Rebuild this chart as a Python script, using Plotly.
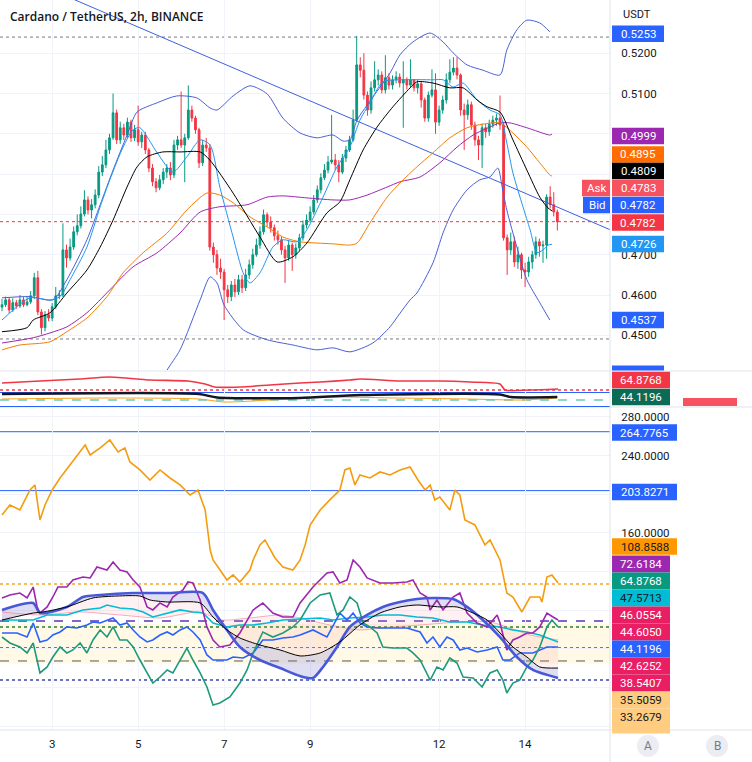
import plotly.graph_objects as go

# ---------------- DATA ----------------
# 2h candles, index 0 = day 1 20:00 ; index 14 = day 3 00:00
first_open = 0.4570
closes = [0.4576, 0.4588, 0.4563, 0.4581, 0.4573, 0.4588, 0.4576, 0.4583, 0.4598, 0.4643,
          0.4558, 0.4519, 0.4551, 0.4543, 0.4571, 0.4598, 0.4600, 0.4712, 0.4692, 0.4719,
          0.4757, 0.4772, 0.4801, 0.4836, 0.4811, 0.4824, 0.4848, 0.4905, 0.4923, 0.4960,
          0.4990, 0.5052, 0.4985, 0.5015, 0.4997, 0.5029, 0.4990, 0.5010, 0.4980, 0.4997,
          0.4960, 0.4915, 0.4881, 0.4866, 0.4886, 0.4905, 0.4915, 0.4898, 0.4972, 0.4985,
          0.4972, 0.4990, 0.5059, 0.5039, 0.5010, 0.4928, 0.4972, 0.4965, 0.4719, 0.4700,
          0.4667, 0.4657, 0.4613, 0.4596, 0.4625, 0.4608, 0.4638, 0.4618, 0.4650, 0.4675,
          0.4700, 0.4724, 0.4757, 0.4799, 0.4781, 0.4767, 0.4747, 0.4737, 0.4712, 0.4692,
          0.4724, 0.4700, 0.4717, 0.4742, 0.4774, 0.4786, 0.4806, 0.4836, 0.4861, 0.4891,
          0.4910, 0.4930, 0.4935, 0.4923, 0.4905, 0.4940, 0.4960, 0.4985, 0.5034, 0.5171,
          0.5158, 0.5096, 0.5059, 0.5114, 0.5134, 0.5146, 0.5109, 0.5139, 0.5121, 0.5134,
          0.5141, 0.5126, 0.5134, 0.5121, 0.5134, 0.5114, 0.5124, 0.5084, 0.5039, 0.5096,
          0.5109, 0.5029, 0.5059, 0.5084, 0.5134, 0.5153, 0.5163, 0.5146, 0.5059, 0.5047,
          0.5072, 0.5022, 0.4985, 0.4972, 0.5015, 0.5005, 0.5024, 0.5034, 0.5039, 0.5022,
          0.4742, 0.4712, 0.4732, 0.4682, 0.4700, 0.4662, 0.4657, 0.4682, 0.4700, 0.4732,
          0.4722, 0.4724, 0.4843, 0.4824, 0.4806, 0.4782]
highs = [0.4590, 0.4596, 0.4595, 0.4592, 0.4588, 0.4600, 0.4595, 0.4597, 0.4610, 0.4655,
         0.4660, 0.4565, 0.4560, 0.4565, 0.4580, 0.4620, 0.4612, 0.4778, 0.4725, 0.4740,
         0.4770, 0.4800, 0.4820, 0.4860, 0.4845, 0.4838, 0.4862, 0.4920, 0.4945, 0.4985,
         0.5000, 0.5100, 0.5060, 0.5030, 0.5025, 0.5040, 0.5035, 0.5022, 0.5070, 0.5005,
         0.5005, 0.4965, 0.4925, 0.4890, 0.4898, 0.4915, 0.4925, 0.4930, 0.4985, 0.4995,
         0.5105, 0.5000, 0.5120, 0.5070, 0.5045, 0.5015, 0.4985, 0.4990, 0.4975, 0.4730,
         0.4712, 0.4690, 0.4665, 0.4625, 0.4635, 0.4640, 0.4650, 0.4650, 0.4665, 0.4688,
         0.4715, 0.4740, 0.4770, 0.4812, 0.4805, 0.4795, 0.4775, 0.4760, 0.4745, 0.4722,
         0.4735, 0.4730, 0.4728, 0.4752, 0.4785, 0.4800, 0.4820, 0.4848, 0.4872, 0.4902,
         0.4925, 0.4945, 0.5047, 0.4950, 0.4935, 0.4950, 0.4970, 0.4995, 0.5060, 0.5243,
         0.5190, 0.5200, 0.5105, 0.5130, 0.5180, 0.5160, 0.5155, 0.5195, 0.5150, 0.5145,
         0.5155, 0.5150, 0.5180, 0.5140, 0.5185, 0.5135, 0.5135, 0.5130, 0.5090, 0.5105,
         0.5160, 0.5150, 0.5070, 0.5095, 0.5150, 0.5185, 0.5190, 0.5190, 0.5150, 0.5075,
         0.5085, 0.5080, 0.5030, 0.4995, 0.5025, 0.5025, 0.5035, 0.5045, 0.5050, 0.5095,
         0.5030, 0.4750, 0.4755, 0.4745, 0.4720, 0.4705, 0.4680, 0.4695, 0.4710, 0.4745,
         0.4740, 0.4735, 0.4850, 0.4870, 0.4855, 0.4812]
lows = [0.4560, 0.4570, 0.4555, 0.4558, 0.4566, 0.4568, 0.4570, 0.4572, 0.4578, 0.4590,
        0.4550, 0.4502, 0.4510, 0.4535, 0.4535, 0.4565, 0.4590, 0.4595, 0.4668, 0.4685,
        0.4712, 0.4748, 0.4765, 0.4795, 0.4800, 0.4790, 0.4815, 0.4840, 0.4895, 0.4915,
        0.4950, 0.4985, 0.4975, 0.4975, 0.4985, 0.4990, 0.4980, 0.4982, 0.4970, 0.4965,
        0.4950, 0.4905, 0.4870, 0.4855, 0.4860, 0.4875, 0.4890, 0.4885, 0.4890, 0.4960,
        0.4965, 0.4880, 0.4985, 0.5030, 0.5000, 0.4915, 0.4920, 0.4955, 0.4710, 0.4680,
        0.4650, 0.4640, 0.4538, 0.4580, 0.4585, 0.4595, 0.4600, 0.4605, 0.4610, 0.4640,
        0.4665, 0.4695, 0.4715, 0.4750, 0.4770, 0.4755, 0.4735, 0.4725, 0.4700, 0.4630,
        0.4685, 0.4660, 0.4690, 0.4710, 0.4735, 0.4765, 0.4780, 0.4800, 0.4828, 0.4852,
        0.4885, 0.4902, 0.4925, 0.4910, 0.4880, 0.4900, 0.4930, 0.4955, 0.4980, 0.5030,
        0.5140, 0.5085, 0.5045, 0.5050, 0.5105, 0.5120, 0.5100, 0.5100, 0.5110, 0.5110,
        0.5125, 0.5115, 0.5015, 0.5110, 0.5115, 0.5105, 0.5100, 0.5065, 0.5030, 0.5030,
        0.5090, 0.5000, 0.5020, 0.5050, 0.5075, 0.5125, 0.5145, 0.5135, 0.5045, 0.4960,
        0.5035, 0.5010, 0.4970, 0.4935, 0.4915, 0.4990, 0.4995, 0.5015, 0.5020, 0.5010,
        0.4735, 0.4650, 0.4700, 0.4670, 0.4665, 0.4640, 0.4620, 0.4645, 0.4665, 0.4690,
        0.4695, 0.4680, 0.4690, 0.4815, 0.4795, 0.4760]

day_tick_index = [14, 38, 62, 86, 122, 146]
day_tick_text = ["3", "5", "7", "9", "12", "14"]
price_ticks = [0.45, 0.46, 0.47, 0.48, 0.49, 0.50, 0.51, 0.52]
price_tick_text = ["0.4500", "0.4600", "0.4700", "", "", "", "0.5100", "0.5200"]
osc_ticks = [-40, 0, 40, 80, 120, 160, 200, 240, 280]
osc_tick_text = ["", "", "", "", "", "160.0000", "", "240.0000", "280.0000"]

# top pane indicators (x = candle index, y = price)
ma_x = [0, 7, 8.7, 13.4, 18.1, 23.7, 27.4, 31, 34.9, 37.7, 40.5, 44.9, 49.7, 55.3, 58, 64.5, 72, 76.8,
        81.2, 85.1, 90.7, 94.3, 97.1, 100.8, 104.7, 109.1, 113.9, 115.8, 120.3, 125, 128.7, 132.6,
        135.4, 139, 142.6, 146.5, 150.1, 152.4, 153.5]
ma_y = [0.4509, 0.4519, 0.4538, 0.4556, 0.4605, 0.4662, 0.4719, 0.4786, 0.4868, 0.4918, 0.4943,
        0.4955, 0.4955, 0.4955, 0.4935, 0.4853, 0.4744, 0.4682, 0.4695, 0.4729, 0.4804, 0.4831,
        0.4886, 0.4960, 0.5017, 0.5067, 0.5114, 0.5129, 0.5126, 0.5114, 0.5114, 0.5084, 0.5067,
        0.5054, 0.4985, 0.4910, 0.4843, 0.4816, 0.4809]
ema_x = [0, 7.8, 13.4, 16.2, 19, 23.7, 27.4, 30.1, 33.8, 36.6, 38.5, 43.3, 47.7, 51.6, 55.3, 58.1,
         60.8, 64.5, 67.3, 69.2, 72, 75.6, 78.4, 82.3, 85.1, 89.6, 93.5, 97.1, 99.9, 102.7, 106.3,
         111.1, 120.3, 123.1, 125.9, 128.7, 132.6, 136.2, 139, 140.9, 142.6, 145.4, 147.4, 149.3,
         151, 152.4, 153.5]
ema_y = [0.4538, 0.4593, 0.4588, 0.4596, 0.4638, 0.4719, 0.4819, 0.4886, 0.4967, 0.5010, 0.5015,
         0.4953, 0.4905, 0.4943, 0.4985, 0.4972, 0.4868, 0.4744, 0.4655, 0.4630, 0.4655, 0.4719,
         0.4737, 0.4732, 0.4762, 0.4843, 0.4918, 0.4967, 0.5034, 0.5077, 0.5129, 0.5134, 0.5134,
         0.5134, 0.5116, 0.5126, 0.5084, 0.5059, 0.5047, 0.4977, 0.4903, 0.4819, 0.4762, 0.4705,
         0.4712, 0.4724, 0.4726]
ema50_x = [0, 5, 13.4, 18.1, 23.7, 29.3, 33.8, 39.4, 46.1, 51.6, 57.2, 60.8, 64.5, 69.2, 74, 78.4,
           83.2, 87.9, 92.4, 97.1, 99.1, 102.7, 107.5, 111.1, 115.8, 120.3, 125, 129.8, 134.2, 139,
           142.6, 146.5, 150.1, 152.9, 153.5]
ema50_y = [0.4464, 0.4476, 0.4484, 0.4509, 0.4543, 0.4596, 0.4655, 0.4705, 0.4754, 0.4811, 0.4853,
           0.4848, 0.4829, 0.4794, 0.4769, 0.4744, 0.4732, 0.4729, 0.4727, 0.4724, 0.4729, 0.4779,
           0.4843, 0.4878, 0.4918, 0.4953, 0.4990, 0.5015, 0.5024, 0.5027, 0.5002, 0.4967, 0.4928,
           0.4898, 0.4895]
ma100_x = [0, 8.7, 13.4, 18.1, 23.7, 30.1, 36.6, 43.3, 49.7, 55.3, 60.8, 68.4, 74, 78.4, 85.1, 92.4,
           97.1, 101.9, 107.5, 111.1, 116.7, 122.2, 127, 131.5, 136.2, 139, 141.8, 146.5, 152.9, 153.5]
ma100_y = [0.4481, 0.4494, 0.4506, 0.4521, 0.4556, 0.4613, 0.4670, 0.4705, 0.4754, 0.4806, 0.4819,
           0.4824, 0.4843, 0.4846, 0.4841, 0.4836, 0.4836, 0.4848, 0.4868, 0.4881, 0.4893, 0.4928,
           0.4967, 0.4997, 0.5017, 0.5027, 0.5027, 0.5015, 0.4997, 0.4999]
bb_up_x = [0, 7.8, 14.2, 18.1, 23.7, 27.4, 31, 34.9, 37.7, 43.3, 48.8, 54.4, 58.1, 60, 64.5, 69.2,
           74, 78.4, 83.2, 87.9, 92.4, 95.2, 97.1, 99.1, 103.5, 108.3, 111.1, 114.7, 119.5, 123.1,
           125.9, 129.8, 134.2, 139, 140.9, 143.7, 146.5, 150.1, 152.9]
bb_up_y = [0.4593, 0.4596, 0.4588, 0.4638, 0.4737, 0.4824, 0.4910, 0.4997, 0.5054, 0.5077, 0.5094,
           0.5089, 0.5064, 0.5059, 0.5094, 0.5119, 0.5099, 0.5039, 0.5002, 0.4990, 0.4997, 0.4982,
           0.4985, 0.5034, 0.5091, 0.5151, 0.5196, 0.5228, 0.5250, 0.5228, 0.5201, 0.5171, 0.5158,
           0.5146, 0.5208, 0.5258, 0.5282, 0.5275, 0.5253]
bb_lo_x = [44.1, 46.1, 49.7, 55.3, 58.1, 60, 62, 67.3, 74, 81.2, 87.9, 92.4, 97.1, 103.5, 108.3,
           111.1, 113.9, 115.8, 120.3, 123.1, 125.9, 129.8, 133.4, 136.2, 138.4, 139.6, 140.9,
           143.7, 146.5, 150.1, 152.9]
bb_lo_y = [0.4377, 0.4414, 0.4464, 0.4588, 0.4645, 0.4630, 0.4575, 0.4514, 0.4489, 0.4476, 0.4464,
           0.4469, 0.4459, 0.4481, 0.4521, 0.4555, 0.4588, 0.4605, 0.4680, 0.4754, 0.4811, 0.4861,
           0.4886, 0.4893, 0.4915, 0.4868, 0.4811, 0.4719, 0.4638, 0.4581, 0.4538]
trend_x = [0, 170]
trend_y = [0.5410, 0.4761]
level_hi = 0.5240
level_lo = 0.4491
last_price = 0.4782

# strip pane (compressed oscillators)
strip_red_x = [0, 10.6, 21.8, 30.1, 41.3, 51.9, 56.7, 59.4, 66.4, 74.8, 83.2, 88.8, 97.1, 99.9,
               111.1, 122.2, 130.6, 139.0, 140.4, 147.4, 155.2]
strip_red_y = [22, 24, 26, 28, 25, 24, 21, 18, 18, 20, 22, 23, 25, 26, 24, 24, 23, 21, 15, 15, 16]
strip_blk_x = [0, 55, 60, 83, 100, 139, 142, 155]
strip_blk_y = [11, 11, 7.5, 7, 10, 10.5, 8, 8]
strip_org_x = [0, 30, 55, 62, 75, 90, 110, 130, 145, 155]
strip_org_y = [6, 7, 6, 3, 5, 8, 7, 6, 5, 7]

# bottom pane oscillators (x = candle index)
cci_x = [0, 2.2, 5, 7.8, 9.2, 10.6, 12, 14, 16.2, 19, 20.4, 23.2, 24.6, 27.4, 30.1, 32.4, 34.3, 35.7,
         38.5, 41.3, 44.1, 46.9, 49.7, 52.5, 54.7, 56.7, 58.1, 58.9, 62.8, 64.5, 66.4, 69.2, 70.1, 72,
         73.4, 76.2, 78.4, 81.2, 83.2, 84.6, 86, 88.8, 91.5, 94.3, 95.7, 97.1, 98.5, 99.9, 102.7,
         105.5, 108.3, 111.1, 113.9, 116.1, 118.1, 119.5, 120.8, 122.2, 125, 126.4, 127.8, 129.2,
         132, 134.8, 136.2, 139, 140.9, 142.6, 145.1, 147.4, 150.1, 150.7, 152.1, 153.5, 155.2]
cci_y = [178.6, 189.0, 183.8, 204.5, 209.7, 173.5, 189.0, 204.5, 216.9, 230.3, 237.6, 251.0, 240.7,
         248.0, 256.2, 243.8, 248.0, 233.5, 225.2, 214.8, 225.2, 216.9, 209.7, 199.3, 204.5, 183.8,
         142.4, 132.1, 111.4, 116.6, 109.3, 121.7, 132.1, 147.6, 152.8, 134.2, 124.8, 121.7, 132.1,
         147.6, 168.3, 183.8, 194.2, 204.5, 225.2, 227.2, 209.7, 220.0, 216.9, 223.1, 220.0, 225.2,
         228.3, 214.8, 204.5, 209.7, 194.2, 197.3, 183.8, 204.5, 199.3, 173.5, 168.3, 147.6, 152.8,
         132.1, 97.9, 93.8, 78.3, 93.8, 93.8, 88.6, 114.5, 116.6, 108.3]
pur_x = [0, 2.2, 5, 7, 8.7, 9.8, 10.6, 12.6, 14.2, 15.6, 18.1, 19.8, 22.6, 24.6, 26.5, 29.3, 31,
         32.9, 34.9, 36.6, 38.5, 40.5, 42.1, 44.1, 46.1, 47.7, 50.5, 51.9, 53.3, 55.3, 57.2, 58.9,
         60.8, 63.6, 66.4, 70.1, 72.8, 75.6, 78.4, 81.2, 83.2, 86.8, 90.7, 92.4, 94.3, 96.3, 98,
         99.9, 101.9, 105.5, 109.1, 113, 114.7, 116.7, 118.6, 119.5, 121.4, 123.1, 125.9, 127.8,
         129.8, 132.6, 135.4, 138.2, 139, 140.9, 142.6, 144.5, 146.5, 148.2, 150.1, 152.1, 153.8,
         155.2]
pur_y = [92.8, 95.9, 97.9, 92.8, 104.1, 83.5, 77.2, 83.5, 93.8, 104.1, 104.1, 111.4, 114.5, 113.5,
         124.8, 121.7, 130.0, 121.7, 119.7, 111.4, 104.1, 83.5, 80.4, 87.6, 83.5, 93.8, 101.0, 109.3,
         108.3, 90.7, 62.8, 49.3, 42.1, 44.1, 56.6, 80.4, 87.6, 77.2, 73.1, 73.1, 87.6, 104.1, 118.6,
         119.7, 108.3, 111.4, 132.1, 124.8, 113.5, 108.3, 108.3, 109.3, 111.4, 97.9, 93.8, 80.4,
         90.7, 80.4, 93.8, 97.9, 77.2, 66.9, 62.8, 75.2, 66.9, 39.0, 49.3, 52.4, 56.6, 56.6, 62.8,
         77.2, 73.1, 70.0]
teal_x = [0, 2.2, 5, 7, 8.7, 10.6, 12.6, 14.2, 16.2, 18.1, 19.8, 21.8, 23.7, 25.4, 27.4, 29.3, 31,
          32.9, 34.9, 36.6, 38.5, 40.5, 42.1, 44.1, 46.1, 47.7, 49.7, 51.6, 53.3, 55.3, 57.2, 58.9,
          60.8, 63.6, 66.4, 68.4, 70.1, 72.8, 75.6, 78.4, 81.2, 83.2, 86, 88.8, 91.5, 93.5, 95.2,
          97.1, 99.1, 100.8, 102.7, 104.7, 106.3, 109.1, 113, 114.7, 116.7, 119.5, 121.4, 123.1,
          125, 127, 128.7, 131.5, 134, 136.2, 138.2, 139.8, 140.9, 142.6, 144.5, 146.5, 148.2,
          150.1, 152.1, 153.5, 155.2]
teal_y = [52.4, 46.2, 42.1, 35.9, 46.2, 15.2, 21.4, 31.7, 42.1, 35.9, 39.0, 46.2, 35.9, 49.3, 59.7,
          52.4, 62.8, 49.3, 49.3, 42.1, 28.6, 15.2, 4.8, 11.0, 18.3, 15.2, 28.6, 41.0, 28.6, 15.2,
          0.7, -17.9, -15.9, -9.6, 4.8, 18.3, 35.9, 57.6, 52.4, 56.6, 62.8, 70.0, 87.6, 95.9, 97.9,
          75.2, 80.4, 93.8, 87.6, 66.9, 62.8, 56.6, 42.1, 41.0, 41.0, 35.9, 28.6, 7.9, 21.4, 18.3,
          30.7, 25.5, 11.0, 10.0, 0.7, 15.2, 18.3, 7.9, -5.5, 4.8, 7.9, 21.4, 28.6, 42.1, 62.8,
          70.0, 62.8]
blue_x = [0, 4.2, 7, 8.7, 10.6, 12.6, 14.2, 16.2, 18.1, 20.9, 23.7, 25.4, 27.4, 29.3, 31, 32.9,
          34.9, 36.6, 38.5, 40.5, 42.1, 44.1, 46.1, 47.7, 49.7, 51.6, 53.3, 55.3, 57.2, 58.9, 62.8,
          64.5, 67.3, 70.1, 72.8, 75.6, 78.4, 81.2, 83.2, 86.8, 90.7, 94.3, 96.3, 98, 99.9, 101.9,
          105.5, 109.1, 113, 116.7, 118.6, 120.3, 122.2, 124.2, 125.9, 127.8, 129.8, 132.6, 135.4,
          138.2, 139.8, 141.8, 144.5, 148.2, 152.1, 155.2]
blue_y = [56.6, 56.6, 52.4, 66.9, 47.3, 49.3, 54.5, 57.6, 62.8, 61.7, 64.8, 67.9, 66.9, 70.0, 72.1,
          64.8, 66.9, 59.7, 52.4, 47.3, 49.3, 54.5, 57.6, 54.5, 59.7, 62.8, 57.6, 49.3, 33.8, 28.6,
          28.6, 31.7, 30.7, 35.9, 49.3, 49.3, 51.4, 52.4, 54.5, 59.7, 52.4, 77.2, 70.0, 77.2, 66.9,
          62.8, 61.7, 61.7, 61.7, 57.6, 46.2, 52.4, 42.1, 52.4, 49.3, 39.0, 41.0, 36.9, 39.0, 42.1,
          28.6, 28.6, 35.9, 35.9, 42.1, 42.1]
cyan_x = [0, 8.7, 12.6, 18.1, 22.6, 27.4, 29.3, 32.9, 36.6, 39.4, 42.1, 46.1, 49.7, 53.3, 56.1, 58.9,
          62.8, 66.4, 70.1, 74, 78.4, 83.2, 88.8, 92.4, 97.1, 101.9, 106.3, 111.1, 115.8, 120.3, 125,
          129.8, 134.2, 139, 142.6, 146.5, 150.1, 155.2]
cyan_y = [70.0, 70.0, 75.2, 75.2, 80.4, 82.4, 85.5, 82.4, 81.4, 78.3, 73.1, 77.2, 80.4, 78.3, 77.2,
          66.9, 62.8, 64.8, 64.8, 66.9, 70.0, 71.0, 72.1, 70.0, 72.1, 73.1, 75.2, 75.2, 73.1, 72.1,
          67.9, 67.9, 64.8, 62.8, 59.7, 57.6, 54.5, 47.3]
env_x = [0, 8.7, 10.6, 18.1, 22.6, 27.4, 36.6, 46.1, 56.1, 58.9, 62.8, 66.4, 72, 77.6, 83.2, 86.8,
         89.6, 93.5, 97.1, 101.9, 106.3, 111.1, 115.8, 120.3, 125.9, 129.8, 134.2, 139, 143.7, 148.2,
         155.2]
env_y = [80.4, 87.6, 77.2, 83.5, 93.8, 95.9, 97.9, 97.9, 97.9, 80.4, 59.7, 42.1, 28.6, 20.3, 12.0,
         10.0, 21.4, 42.1, 62.8, 75.2, 83.5, 88.6, 91.7, 92.8, 91.7, 83.5, 70.0, 52.4, 31.7, 18.3,
         10.0]
mid_x = [0, 8.7, 11.4, 18.1, 25.4, 32.1, 38.5, 41.3, 46.1, 55.3, 58.9, 62.8, 66.4, 72, 77.6, 83.2,
         88.8, 94.3, 99.9, 105.5, 111.1, 115.8, 122.2, 127, 131.5, 135.4, 139, 142.6, 146.5, 150.1,
         155.2]
mid_y = [70.0, 77.2, 78.3, 83.5, 92.8, 94.8, 94.8, 90.7, 88.6, 87.6, 73.1, 59.7, 51.4, 44.1, 39.0,
         32.8, 35.9, 47.3, 64.8, 77.2, 83.5, 85.5, 83.5, 83.5, 77.2, 70.0, 56.6, 42.1, 31.7, 21.4,
         20.3]
warm_x = [0, 10.6, 21.8, 32.9, 44.1, 55.3, 60.8, 69.2, 77.6, 83.2, 91.5, 99.9, 105.5, 116.7, 127.8,
          136.2, 141.8, 147.4, 155.2]
warm_y = [78.3, 75.2, 78.3, 75.2, 72.1, 78.3, 70.0, 72.1, 75.2, 72.1, 64.8, 59.7, 61.7, 64.8, 67.9,
          67.9, 61.7, 54.5, 49.3]
osc_levels_solid = [264.7765, 203.8271]
osc_level_orange = 107.2
osc_level_purple = 69.0
osc_level_green = 62.8
osc_level_blue_hi = 41.0
osc_level_dash = 27.6
osc_level_blue_lo = 8.0
band_top, band_bottom = 66.0, 25.0

# ---------------- FIGURE ----------------
W_PLOT, H_PLOT = 610.0, 730.0
FONT = "Roboto"
TXT = "#131722"


def py(ypx):
    return 1 - ypx / H_PLOT


def pxx(xpx):
    return xpx / W_PLOT


idx = list(range(len(closes)))
opens = [first_open] + closes[:-1]

fig = go.Figure()

fig.add_trace(go.Candlestick(
    x=idx, open=opens, high=highs, low=lows, close=closes,
    increasing=dict(line=dict(color="#089981", width=1), fillcolor="#089981"),
    decreasing=dict(line=dict(color="#F23645", width=1), fillcolor="#F23645"),
    whiskerwidth=0, xaxis="x", yaxis="y", hoverinfo="skip", showlegend=False))


def line(x, y, color, width=1, ax=("x", "y"), shape="spline", dash=None, fill=None, fillcolor=None):
    fig.add_trace(go.Scatter(
        x=x, y=y, mode="lines", xaxis=ax[0], yaxis=ax[1], hoverinfo="skip", showlegend=False,
        line=dict(color=color, width=width, shape=shape, smoothing=0.7, dash=dash),
        fill=fill, fillcolor=fillcolor))


# top pane
line(trend_x, trend_y, "#3F5FE0", 1, shape="linear")
line(bb_up_x, bb_up_y, "#4A5FD6", 1)
line(bb_lo_x, bb_lo_y, "#4A5FD6", 1)
line(ma100_x, ma100_y, "#9C27B0", 1)
line(ema50_x, ema50_y, "#F57C00", 1)
line(ema_x, ema_y, "#2196F3", 1)
line(ma_x, ma_y, "#000000", 1)

# strip pane
S = ("x2", "y2")
line(strip_org_x, strip_org_y, "#F7A21B", 1, ax=S)
line(strip_blk_x, strip_blk_y, "#131722", 2.5, ax=S)
line(strip_red_x, strip_red_y, "#F23645", 1.6, ax=S)

# bottom pane
B = ("x3", "y3")
line(env_x, env_y, "rgba(0,0,0,0)", 0, ax=B)
line(mid_x, mid_y, "rgba(0,0,0,0)", 0, ax=B, fill="tonexty", fillcolor="rgba(120,115,205,0.24)")
line(warm_x, warm_y, "rgba(240,110,140,0.7)", 0.8, ax=B, fill="tonexty", fillcolor="rgba(255,140,150,0.13)")
line(cyan_x, cyan_y, "#00BCD4", 1.6, ax=B, shape="linear")
line(blue_x, blue_y, "#2962FF", 1.6, ax=B, shape="linear")
line(teal_x, teal_y, "#1E9A7A", 1.6, ax=B, shape="linear")
line(pur_x, pur_y, "#9C27B0", 1.6, ax=B, shape="linear")
line(cci_x, cci_y, "#F59C0E", 1.6, ax=B, shape="linear")
line(env_x, env_y, "#4758D9", 2.6, ax=B)
line(mid_x, mid_y, "#000000", 1, ax=B)

GRID = "#F0F3FA"
xcommon = dict(range=[-0.56, 169.7], tickvals=day_tick_index, ticktext=day_tick_text,
               showgrid=True, gridcolor=GRID, zeroline=False, showline=False, fixedrange=True)
fig.update_layout(
    width=752, height=762, margin=dict(l=0, r=142, t=0, b=32),
    paper_bgcolor="white", plot_bgcolor="white", showlegend=False,
    font=dict(family=FONT, size=11.5, color=TXT),
    xaxis=dict(domain=[0, 1], anchor="y", showticklabels=False, rangeslider=dict(visible=False), **xcommon),
    xaxis2=dict(domain=[0, 1], anchor="y2", showticklabels=False, matches="x", **xcommon),
    xaxis3=dict(domain=[0, 1], anchor="y3", showticklabels=True, matches="x", ticks="outside",
                ticklen=3, tickcolor="rgba(0,0,0,0)", tickfont=dict(size=11.5, color=TXT), **xcommon),
    yaxis=dict(domain=[py(370), 1], range=[0.4414, 0.5332], side="right", anchor="x",
               tickvals=price_ticks, ticktext=price_tick_text,
               ticks="outside", ticklen=8, tickcolor="rgba(0,0,0,0)", showgrid=True,
               gridcolor=GRID, zeroline=False, fixedrange=True),
    yaxis2=dict(domain=[py(405), py(372)], range=[0, 33], anchor="x2", showticklabels=False,
                showgrid=False, zeroline=False, fixedrange=True),
    yaxis3=dict(domain=[0, py(408)], range=[-43.8, 289.3], side="right", anchor="x3",
                tickvals=osc_ticks, ticktext=osc_tick_text, ticks="outside", ticklen=8,
                tickcolor="rgba(0,0,0,0)", showgrid=True, gridcolor=GRID, zeroline=False,
                fixedrange=True),
)


# level lines
def hline(y, color, yref, dash="dot", width=1, layer="below"):
    fig.add_shape(type="line", xref=yref.replace("y", "x") + " domain", yref=yref, x0=0, x1=1,
                  y0=y, y1=y, line=dict(color=color, width=width, dash=dash), layer=layer)


hline(level_hi, "#787B86", "y")
hline(level_lo, "#787B86", "y")
hline(last_price, "#F23645", "y")
hline(15, "#F23645", "y2", width=1.5)
hline(12.5, "#2962FF", "y2", dash="solid")
hline(5, "#22AB94", "y2", dash="dash")
fig.add_shape(type="rect", xref="x3 domain", yref="y3", x0=0, x1=1, y0=band_bottom, y1=band_top,
              fillcolor="rgba(255,236,170,0.30)", line_width=0, layer="below")
for v in osc_levels_solid:
    hline(v, "#2962FF", "y3", dash="solid")
hline(osc_level_orange, "#F5A623", "y3", width=1.5)
hline(osc_level_purple, "#5E35B1", "y3", width=1.5, dash="dash")
hline(osc_level_green, "#2E7D32", "y3", width=1.5)
hline(osc_level_blue_hi, "#3949AB", "y3", width=1.5)
hline(osc_level_dash, "#555555", "y3", dash="dash")
hline(osc_level_blue_lo, "#3949AB", "y3", width=1.5)

# pane separators / borders
SEP = "#E0E3EB"
for ypx in (371, 407, 730):
    fig.add_shape(type="line", xref="paper", yref="paper", x0=0, x1=pxx(752), y0=py(ypx), y1=py(ypx),
                  line=dict(color=SEP, width=1), layer="above")
fig.add_shape(type="line", xref="paper", yref="paper", x0=0, x1=1, y0=py(406.5), y1=py(406.5),
              line=dict(color="#2962FF", width=1), layer="above")
fig.add_shape(type="line", xref="paper", yref="paper", x0=1, x1=1, y0=py(762), y1=1,
              line=dict(color=SEP, width=1), layer="above")


def tag(text, ycenter, bg, fg="white", x0=612, x1=664, h=16.5):
    fig.add_shape(type="rect", xref="paper", yref="paper", x0=pxx(x0), x1=pxx(x1),
                  y0=py(ycenter + h / 2), y1=py(ycenter - h / 2), fillcolor=bg, line_width=0,
                  layer="above")
    if text:
        fig.add_annotation(text=text, xref="paper", yref="paper", x=pxx((x0 + x1) / 2),
                           y=py(ycenter), showarrow=False, xanchor="center", yanchor="middle",
                           font=dict(family=FONT, size=11.5, color=fg))


# title and currency
fig.add_annotation(text="Cardano / TetherUS, 2h, BINANCE", xref="paper", yref="paper",
                   x=pxx(8), y=py(16), xanchor="left", yanchor="middle", showarrow=False,
                   font=dict(family="Open Sans", size=12, color=TXT, weight=600))
fig.add_annotation(text="USDT", xref="paper", yref="paper", x=pxx(621), y=py(14), xanchor="left",
                   yanchor="middle", showarrow=False, font=dict(family=FONT, size=11, color=TXT))

# top pane tags
tag("0.5253", 33.7, "#2962FF")
tag("0.4999", 136, "#9C27B0")
tag("0.4895", 154.5, "#FF6D00")
tag("0.4809", 171, "#000000")
tag("0.4783", 188, "#F7525F")
tag("Ask", 188, "#F7525F", x0=582, x1=610)
tag("0.4782", 205, "#2962FF")
tag("Bid", 205, "#2962FF", x0=583, x1=610)
tag("0.4782", 222.5, "#F23645")
tag("0.4726", 244, "#2196F3")
tag("0.4537", 320, "#2962FF")
tag("", 368, "#2962FF", h=5)

# strip tags
tag("64.8768", 380, "#F23645", x1=670)
tag("44.1196", 397, "#0B6B55", x1=670)
tag("", 402, "#F7525F", x0=683, x1=737, h=8)

# bottom pane tags
tag("264.7765", 432.5, "#2962FF", x1=677)
tag("203.8271", 492, "#2962FF", x1=677)
tag("108.8588", 546.5, "#FF9800", fg=TXT, x1=677)
stack = [("72.6184", "#9C27B0", "white"), ("64.8768", "#089981", "white"),
         ("47.5713", "#00BCD4", TXT), ("46.0554", "#E91E63", "white"),
         ("44.6050", "#E91E63", "white"), ("44.1196", "#2962FF", "white"),
         ("42.6252", "#E91E63", "white"), ("38.5407", "#E91E63", "white"),
         ("35.5059", "#FFCC80", TXT), ("33.2679", "#FFCC80", TXT)]
for k, (t, bg, fg) in enumerate(stack):
    tag(t, 564 + 17 * k, bg, fg=fg, x1=670, h=17)
tag("", 729, "#FFCC80", x1=670, h=9)

# A / B buttons
for label_text, cx in (("A", 648), ("B", 717)):
    fig.add_shape(type="circle", xref="paper", yref="paper", x0=pxx(cx - 11), x1=pxx(cx + 11),
                  y0=py(757), y1=py(735), fillcolor="#EBEDF2", line_width=0, layer="above")
    fig.add_annotation(text=label_text, xref="paper", yref="paper", x=pxx(cx), y=py(746),
                       xanchor="center", yanchor="middle", showarrow=False,
                       font=dict(family=FONT, size=12, color="#787B86"))

fig.write_html("out.html", config={"displayModeBar": False},
               post_script="document.body.style.margin='0';document.body.style.overflow='hidden';")
